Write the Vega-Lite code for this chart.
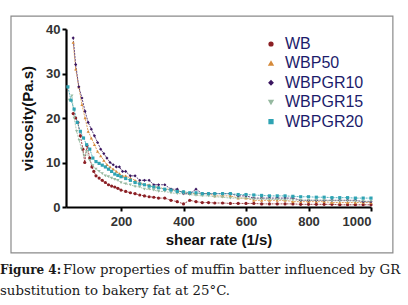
{
  "$schema": "https://vega.github.io/schema/vega-lite/v6.json",
  "width": 305,
  "height": 178,
  "autosize": {"type": "none"},
  "padding": {"left": 66, "top": 29, "right": 37, "bottom": 98},
  "background": "white",
  "datasets": {
    "curves": [
      {"s":"WB","x":47,"v":21},{"s":"WB","x":55,"v":20},{"s":"WB","x":62,"v":19},{"s":"WB","x":70,"v":16},{"s":"WB","x":78,"v":13},{"s":"WB","x":84,"v":10},{"s":"WB","x":91,"v":13.8},{"s":"WB","x":100,"v":11},{"s":"WB","x":107,"v":9},{"s":"WB","x":113,"v":8},{"s":"WB","x":120,"v":7},{"s":"WB","x":130,"v":6.5},{"s":"WB","x":140,"v":6},{"s":"WB","x":150,"v":5.5},{"s":"WB","x":160,"v":5},{"s":"WB","x":170,"v":4.7},{"s":"WB","x":180,"v":4.5},{"s":"WB","x":190,"v":4.2},{"s":"WB","x":200,"v":3.8},{"s":"WB","x":215,"v":3.5},{"s":"WB","x":230,"v":3.2},{"s":"WB","x":245,"v":3},{"s":"WB","x":260,"v":2.7},{"s":"WB","x":275,"v":2.5},{"s":"WB","x":290,"v":2.3},{"s":"WB","x":305,"v":2.2},{"s":"WB","x":320,"v":2},{"s":"WB","x":340,"v":2},{"s":"WB","x":360,"v":1.5},{"s":"WB","x":380,"v":1.2},{"s":"WB","x":400,"v":0.7},{"s":"WB","x":420,"v":1.5},{"s":"WB","x":440,"v":1.2},{"s":"WB","x":460,"v":1},{"s":"WB","x":480,"v":1},{"s":"WB","x":500,"v":0.9},{"s":"WB","x":525,"v":0.9},{"s":"WB","x":550,"v":0.8},{"s":"WB","x":575,"v":0.8},{"s":"WB","x":600,"v":0.8},{"s":"WB","x":625,"v":0.8},{"s":"WB","x":650,"v":0.7},{"s":"WB","x":675,"v":0.7},{"s":"WB","x":700,"v":0.7},{"s":"WB","x":725,"v":0.7},{"s":"WB","x":750,"v":0.7},{"s":"WB","x":775,"v":0.6},{"s":"WB","x":800,"v":0.6},{"s":"WB","x":825,"v":0.6},{"s":"WB","x":850,"v":0.6},{"s":"WB","x":875,"v":0.6},{"s":"WB","x":900,"v":0.5},{"s":"WB","x":925,"v":0.5},{"s":"WB","x":950,"v":0.5},{"s":"WB","x":975,"v":0.5},{"s":"WB","x":1000,"v":0.5},

      {"s":"WBP50","x":47,"v":37},{"s":"WBP50","x":55,"v":31},{"s":"WBP50","x":65,"v":27},{"s":"WBP50","x":75,"v":23},{"s":"WBP50","x":85,"v":20},{"s":"WBP50","x":95,"v":17},{"s":"WBP50","x":105,"v":15.5},{"s":"WBP50","x":115,"v":14},{"s":"WBP50","x":125,"v":12.5},{"s":"WBP50","x":135,"v":11.5},{"s":"WBP50","x":145,"v":10.5},{"s":"WBP50","x":155,"v":9.5},{"s":"WBP50","x":165,"v":9},{"s":"WBP50","x":175,"v":8.5},{"s":"WBP50","x":185,"v":8},{"s":"WBP50","x":195,"v":7.5},{"s":"WBP50","x":205,"v":7},{"s":"WBP50","x":215,"v":7},{"s":"WBP50","x":230,"v":6.5},{"s":"WBP50","x":245,"v":6},{"s":"WBP50","x":260,"v":5.5},{"s":"WBP50","x":275,"v":5},{"s":"WBP50","x":290,"v":5},{"s":"WBP50","x":305,"v":4.5},{"s":"WBP50","x":320,"v":4.5},{"s":"WBP50","x":340,"v":4},{"s":"WBP50","x":360,"v":4},{"s":"WBP50","x":380,"v":3.5},{"s":"WBP50","x":400,"v":3.5},{"s":"WBP50","x":420,"v":3},{"s":"WBP50","x":440,"v":3},{"s":"WBP50","x":460,"v":3},{"s":"WBP50","x":480,"v":3},{"s":"WBP50","x":500,"v":2.5},{"s":"WBP50","x":525,"v":2.5},{"s":"WBP50","x":550,"v":2.5},{"s":"WBP50","x":575,"v":2},{"s":"WBP50","x":600,"v":2},{"s":"WBP50","x":625,"v":1.5},{"s":"WBP50","x":650,"v":1.5},{"s":"WBP50","x":675,"v":1.5},{"s":"WBP50","x":700,"v":1.5},{"s":"WBP50","x":725,"v":1.5},{"s":"WBP50","x":750,"v":1.2},{"s":"WBP50","x":775,"v":1.2},{"s":"WBP50","x":800,"v":1.2},{"s":"WBP50","x":825,"v":1.2},{"s":"WBP50","x":850,"v":1.2},{"s":"WBP50","x":875,"v":1},{"s":"WBP50","x":900,"v":1},{"s":"WBP50","x":925,"v":1},{"s":"WBP50","x":950,"v":1},{"s":"WBP50","x":975,"v":1},{"s":"WBP50","x":1000,"v":1},

      {"s":"WBPGR10","x":47,"v":38},{"s":"WBPGR10","x":55,"v":32},{"s":"WBPGR10","x":65,"v":27},{"s":"WBPGR10","x":75,"v":24.5},{"s":"WBPGR10","x":85,"v":21.5},{"s":"WBPGR10","x":95,"v":19},{"s":"WBPGR10","x":105,"v":17.5},{"s":"WBPGR10","x":115,"v":16},{"s":"WBPGR10","x":125,"v":14.5},{"s":"WBPGR10","x":135,"v":13},{"s":"WBPGR10","x":145,"v":12},{"s":"WBPGR10","x":155,"v":11},{"s":"WBPGR10","x":165,"v":10},{"s":"WBPGR10","x":175,"v":9.5},{"s":"WBPGR10","x":185,"v":9},{"s":"WBPGR10","x":195,"v":9},{"s":"WBPGR10","x":205,"v":8},{"s":"WBPGR10","x":215,"v":8},{"s":"WBPGR10","x":230,"v":7},{"s":"WBPGR10","x":245,"v":7},{"s":"WBPGR10","x":260,"v":6},{"s":"WBPGR10","x":275,"v":6},{"s":"WBPGR10","x":290,"v":6},{"s":"WBPGR10","x":305,"v":5},{"s":"WBPGR10","x":320,"v":5},{"s":"WBPGR10","x":340,"v":5},{"s":"WBPGR10","x":360,"v":4},{"s":"WBPGR10","x":380,"v":4},{"s":"WBPGR10","x":400,"v":3},{"s":"WBPGR10","x":420,"v":3},{"s":"WBPGR10","x":440,"v":4},{"s":"WBPGR10","x":460,"v":3},{"s":"WBPGR10","x":480,"v":3},{"s":"WBPGR10","x":500,"v":3},{"s":"WBPGR10","x":525,"v":3},{"s":"WBPGR10","x":550,"v":3},{"s":"WBPGR10","x":575,"v":2.5},{"s":"WBPGR10","x":600,"v":2.5},{"s":"WBPGR10","x":625,"v":2},{"s":"WBPGR10","x":650,"v":2},{"s":"WBPGR10","x":675,"v":2},{"s":"WBPGR10","x":700,"v":2},{"s":"WBPGR10","x":725,"v":2},{"s":"WBPGR10","x":750,"v":2},{"s":"WBPGR10","x":775,"v":1.5},{"s":"WBPGR10","x":800,"v":1.5},{"s":"WBPGR10","x":825,"v":1.5},{"s":"WBPGR10","x":850,"v":1.5},{"s":"WBPGR10","x":875,"v":1.5},{"s":"WBPGR10","x":900,"v":1.5},{"s":"WBPGR10","x":925,"v":1.5},{"s":"WBPGR10","x":950,"v":1.5},{"s":"WBPGR10","x":975,"v":1.2},{"s":"WBPGR10","x":1000,"v":1.2},

      {"s":"WBPGR15","x":35,"v":24},{"s":"WBPGR15","x":43,"v":25},{"s":"WBPGR15","x":50,"v":20},{"s":"WBPGR15","x":58,"v":17},{"s":"WBPGR15","x":66,"v":15},{"s":"WBPGR15","x":74,"v":13},{"s":"WBPGR15","x":82,"v":11.5},{"s":"WBPGR15","x":90,"v":12.5},{"s":"WBPGR15","x":100,"v":10.5},{"s":"WBPGR15","x":110,"v":9.3},{"s":"WBPGR15","x":120,"v":8.5},{"s":"WBPGR15","x":130,"v":8},{"s":"WBPGR15","x":140,"v":7.5},{"s":"WBPGR15","x":150,"v":7},{"s":"WBPGR15","x":160,"v":6.8},{"s":"WBPGR15","x":170,"v":6.5},{"s":"WBPGR15","x":180,"v":6.2},{"s":"WBPGR15","x":190,"v":6},{"s":"WBPGR15","x":200,"v":5.5},{"s":"WBPGR15","x":215,"v":5.2},{"s":"WBPGR15","x":230,"v":5},{"s":"WBPGR15","x":245,"v":4.6},{"s":"WBPGR15","x":260,"v":4.5},{"s":"WBPGR15","x":275,"v":4},{"s":"WBPGR15","x":290,"v":4},{"s":"WBPGR15","x":305,"v":3.8},{"s":"WBPGR15","x":320,"v":3.5},{"s":"WBPGR15","x":340,"v":3.5},{"s":"WBPGR15","x":360,"v":3.2},{"s":"WBPGR15","x":380,"v":3},{"s":"WBPGR15","x":400,"v":3},{"s":"WBPGR15","x":420,"v":2.8},{"s":"WBPGR15","x":440,"v":2.6},{"s":"WBPGR15","x":460,"v":2.5},{"s":"WBPGR15","x":480,"v":2.5},{"s":"WBPGR15","x":500,"v":2.3},{"s":"WBPGR15","x":525,"v":2.2},{"s":"WBPGR15","x":550,"v":2},{"s":"WBPGR15","x":575,"v":2},{"s":"WBPGR15","x":600,"v":2},{"s":"WBPGR15","x":625,"v":1.8},{"s":"WBPGR15","x":650,"v":1.8},{"s":"WBPGR15","x":675,"v":1.7},{"s":"WBPGR15","x":700,"v":1.7},{"s":"WBPGR15","x":725,"v":1.6},{"s":"WBPGR15","x":750,"v":1.6},{"s":"WBPGR15","x":775,"v":1.5},{"s":"WBPGR15","x":800,"v":1.5},{"s":"WBPGR15","x":825,"v":1.5},{"s":"WBPGR15","x":850,"v":1.5},{"s":"WBPGR15","x":875,"v":1.4},{"s":"WBPGR15","x":900,"v":1.4},{"s":"WBPGR15","x":925,"v":1.4},{"s":"WBPGR15","x":950,"v":1.3},{"s":"WBPGR15","x":975,"v":1.3},{"s":"WBPGR15","x":1000,"v":1.3},

      {"s":"WBPGR20","x":30,"v":27},{"s":"WBPGR20","x":40,"v":24},{"s":"WBPGR20","x":50,"v":22},{"s":"WBPGR20","x":60,"v":19},{"s":"WBPGR20","x":70,"v":17},{"s":"WBPGR20","x":80,"v":15.5},{"s":"WBPGR20","x":90,"v":14},{"s":"WBPGR20","x":100,"v":13},{"s":"WBPGR20","x":110,"v":11},{"s":"WBPGR20","x":120,"v":10.2},{"s":"WBPGR20","x":130,"v":9.8},{"s":"WBPGR20","x":140,"v":9.4},{"s":"WBPGR20","x":150,"v":9},{"s":"WBPGR20","x":160,"v":8.5},{"s":"WBPGR20","x":170,"v":8},{"s":"WBPGR20","x":180,"v":7.4},{"s":"WBPGR20","x":190,"v":7.1},{"s":"WBPGR20","x":200,"v":6.8},{"s":"WBPGR20","x":215,"v":6.4},{"s":"WBPGR20","x":230,"v":6},{"s":"WBPGR20","x":245,"v":5.5},{"s":"WBPGR20","x":260,"v":5.2},{"s":"WBPGR20","x":275,"v":5},{"s":"WBPGR20","x":290,"v":4.7},{"s":"WBPGR20","x":305,"v":4.5},{"s":"WBPGR20","x":320,"v":4.3},{"s":"WBPGR20","x":340,"v":4},{"s":"WBPGR20","x":360,"v":3.8},{"s":"WBPGR20","x":380,"v":3.5},{"s":"WBPGR20","x":400,"v":3.4},{"s":"WBPGR20","x":420,"v":3.2},{"s":"WBPGR20","x":440,"v":3.2},{"s":"WBPGR20","x":460,"v":3},{"s":"WBPGR20","x":480,"v":3},{"s":"WBPGR20","x":500,"v":3},{"s":"WBPGR20","x":525,"v":3},{"s":"WBPGR20","x":550,"v":3},{"s":"WBPGR20","x":575,"v":2.8},{"s":"WBPGR20","x":600,"v":2.8},{"s":"WBPGR20","x":625,"v":2.7},{"s":"WBPGR20","x":650,"v":2.6},{"s":"WBPGR20","x":675,"v":2.5},{"s":"WBPGR20","x":700,"v":2.5},{"s":"WBPGR20","x":725,"v":2.5},{"s":"WBPGR20","x":750,"v":2.4},{"s":"WBPGR20","x":775,"v":2.3},{"s":"WBPGR20","x":800,"v":2.3},{"s":"WBPGR20","x":825,"v":2.2},{"s":"WBPGR20","x":850,"v":2.2},{"s":"WBPGR20","x":875,"v":2.1},{"s":"WBPGR20","x":900,"v":2.1},{"s":"WBPGR20","x":925,"v":2.1},{"s":"WBPGR20","x":950,"v":2},{"s":"WBPGR20","x":975,"v":2},{"s":"WBPGR20","x":1000,"v":2}
    ]
  },
  "layer": [
    {
      "data": {"name": "curves"},
      "mark": {"type": "line", "strokeWidth": 0.8, "strokeDash": [2, 1]},
      "encoding": {
        "x": {"field": "x", "type": "quantitative", "scale": {"domain": [24, 1000], "nice": false, "zero": false}},
        "y": {"field": "v", "type": "quantitative", "scale": {"domain": [0, 40], "nice": false}},
        "color": {"field": "s", "type": "nominal", "title": null,
          "scale": {"domain": ["WB", "WBP50", "WBPGR10", "WBPGR15", "WBPGR20"], "range": ["#8b1f24", "#d58a3a", "#3b1660", "#96b9a0", "#2ea3b3"]}},
        "detail": {"field": "s"}
      }
    },
    {
      "data": {"name": "curves"},
      "mark": {"type": "point", "filled": true, "size": 10, "opacity": 1},
      "encoding": {
        "x": {"field": "x", "type": "quantitative",
          "axis": {"values": [200, 400, 600, 800, 1000], "format": "d", "title": "shear rate (1/s)", "grid": false}},
        "y": {"field": "v", "type": "quantitative",
          "axis": {"values": [0, 10, 20, 30, 40], "title": "viscosity(Pa.s)", "grid": false}},
        "color": {"field": "s", "type": "nominal", "title": null},
        "shape": {"field": "s", "type": "nominal", "title": null,
          "scale": {"domain": ["WB", "WBP50", "WBPGR10", "WBPGR15", "WBPGR20"], "range": ["circle", "triangle-up", "diamond", "triangle-down", "square"]}}
      }
    },
    {
      "data": {"values": [{"t": "Figure 4:"}]},
      "mark": {"type": "text", "align": "left", "baseline": "middle", "font": "DejaVu Serif", "fontSize": 12, "fontWeight": "bold", "color": "#1a1a1a"},
      "encoding": {"x": {"datum": -187.2, "type": "quantitative"}, "y": {"datum": -14.2, "type": "quantitative"}, "text": {"field": "t"}}
    },
    {
      "data": {"values": [{"t": "Flow properties of muffin batter influenced by GR"}]},
      "mark": {"type": "text", "align": "left", "baseline": "middle", "dx": 63, "font": "DejaVu Serif", "fontSize": 13.3, "color": "#1a1a1a"},
      "encoding": {"x": {"datum": -187.2, "type": "quantitative"}, "y": {"datum": -14.2, "type": "quantitative"}, "text": {"field": "t"}}
    },
    {
      "data": {"values": [{"t": "substitution to bakery fat at 25°C."}]},
      "mark": {"type": "text", "align": "left", "baseline": "middle", "font": "DejaVu Serif", "fontSize": 13.3, "color": "#1a1a1a"},
      "encoding": {"x": {"datum": -187.2, "type": "quantitative"}, "y": {"datum": -18.9, "type": "quantitative"}, "text": {"field": "t"}}
    },
    {
      "data": {"values": [{"frame": 1}]},
      "mark": {"type": "rect", "filled": false, "stroke": "#8a8a8a", "strokeWidth": 1.2, "strokeOpacity": 1},
      "encoding": {
        "x": {"datum": -152, "type": "quantitative"},
        "x2": {"datum": 1070},
        "y": {"datum": 42.9, "type": "quantitative"},
        "y2": {"datum": -10.3}
      }
    }
  ],
  "config": {
    "view": {"stroke": null},
    "axis": {
      "domainColor": "#000", "domainWidth": 2.2, "tickColor": "#000", "tickWidth": 2, "tickSize": 4,
      "labelFont": "Liberation Sans", "labelFontWeight": "bold", "labelFontSize": 13, "labelColor": "#333",
      "titleFont": "Liberation Sans", "titleFontWeight": "bold", "titleFontSize": 15, "titleColor": "#111"
    },
    "axisX": {"labelPadding": 4, "titlePadding": 4},
    "axisY": {"labelPadding": 2, "titlePadding": 10},
    "legend": {
      "orient": "none", "legendX": 197, "legendY": 7, "labelFont": "Liberation Sans", "labelFontSize": 16, "labelColor": "#1c1c6b",
      "symbolSize": 14, "rowPadding": 3.4, "symbolOffset": 0, "labelOffset": 6, "padding": 0
    }
  }
}
